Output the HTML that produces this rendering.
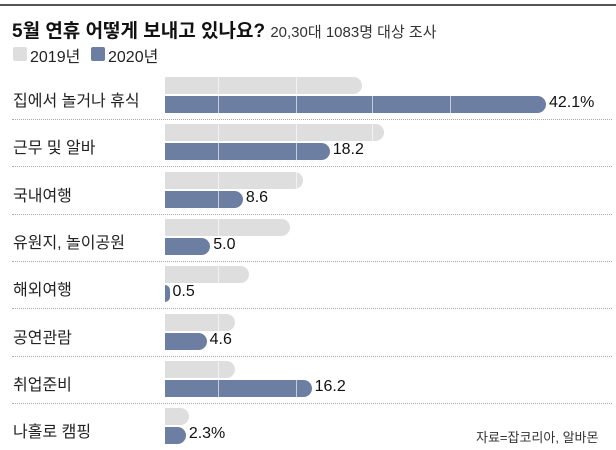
<!DOCTYPE html>
<html><head><meta charset="utf-8"><style>
body{margin:0;width:616px;height:450px;background:#fff;position:relative;overflow:hidden;font-family:"Liberation Sans","Noto Sans CJK KR",sans-serif;color:#222}
.a{position:absolute;white-space:nowrap}
.bar{position:absolute;left:165px;height:17px;border-radius:0 9px 9px 0}
.g{background:#dedede}.b{background:#6d7ea3}
.sep{position:absolute;left:12px;width:600px;border-top:1px dotted #aaa}
.vl{position:absolute;width:1px;background:#fff;opacity:.6}
</style></head><body>
<div class="a" style="left:0;top:4px;width:616px;height:2px;background:#555"></div>
<div class="a" style="left:12px;top:16px;font-size:19px;font-weight:bold;color:#111">5월 연휴 어떻게 보내고 있나요? <span style="font-size:15px;font-weight:normal;color:#333">20,30대 1083명 대상 조사</span></div>
<div class="a" style="left:13px;top:47px;width:14px;height:14px;background:#dedede;border-radius:2px"></div>
<div class="a" style="left:30px;top:43px;font-size:16px">2019년</div>
<div class="a" style="left:91px;top:47px;width:14px;height:14px;background:#6d7ea3;border-radius:2px"></div>
<div class="a" style="left:108px;top:43px;font-size:16px">2020년</div>
<div id="c"></div>
<div class="a" style="left:476px;top:427px;font-size:13px;color:#333">자료=잡코리아, 알바몬</div>
<script>
var d=[["집에서 놀거나 휴식",362,42.1,"42.1%"],["근무 및 알바",384,18.2,"18.2"],["국내여행",303,8.6,"8.6"],["유원지, 놀이공원",290,5.0,"5.0"],["해외여행",249,0.5,"0.5"],["공연관람",235,4.6,"4.6"],["취업준비",235,16.2,"16.2"],["나홀로 캠핑",189,2.3,"2.3%"]];
var h="";
d.forEach(function(r,i){var y=77+47.3*i;var bw=r[2]*9.05;
h+='<div class="bar g" style="top:'+y+'px;width:'+(r[1]-165)+'px"></div>';
h+='<div class="bar b" style="top:'+(y+19)+'px;width:'+bw+'px"></div>';
[218,296,372,450].forEach(function(x){if(x<r[1]-4)h+='<div class="vl" style="left:'+x+'px;top:'+y+'px;height:17px"></div>';if(x<165+bw-4)h+='<div class="vl" style="left:'+x+'px;top:'+(y+19)+'px;height:17px"></div>';});
h+='<div class="a" style="left:'+(168+bw)+'px;top:'+(y+17)+'px;font-size:16px;color:#111">'+r[3]+'</div>';
h+='<div class="a" style="left:13px;top:'+(y+10)+'px;font-size:16px;color:#222">'+r[0]+'</div>';
if(i<7)h+='<div class="sep" style="top:'+(y+42)+'px"></div>';});
document.getElementById("c").innerHTML=h;
</script>
</body></html>
